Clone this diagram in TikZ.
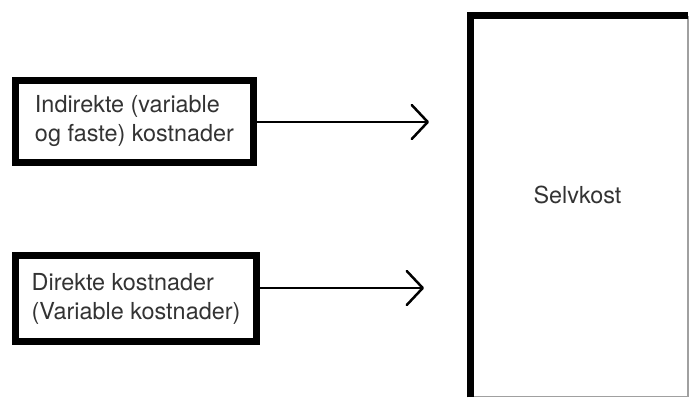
\documentclass[tikz,border=0pt]{standalone}
\usepackage{fontspec}
\setmainfont{TeX Gyre Heros}
\usetikzlibrary{arrows.meta}
\definecolor{txt}{HTML}{333333}
\definecolor{thin}{HTML}{A0A0A0}
\tikzset{
  costbox/.style={draw=black, line width=7pt, rectangle, align=left,
    inner xsep=0pt, inner ysep=0pt, text=txt,
    font=\fontsize{23.4}{29}\selectfont},
  flow/.style={draw=black, line width=2.5pt,
    -{Straight Barb[length=16pt,width=34pt,line cap=round,line join=round]}},
  labeltext/.style={text=txt, font=\fontsize{23.4}{29}\selectfont, inner sep=0pt}
}
\begin{document}
\begin{tikzpicture}[x=1pt,y=-1pt]
\useasboundingbox (0,0) rectangle (690,398);
\fill[white] (0,0) rectangle (690,398);
% left boxes
\node[costbox, minimum width=238pt, minimum height=82pt]
  (ind) at (134.5,121.5) {Indirekte (variable\\og faste) kostnader};
\node[costbox, minimum width=241pt, minimum height=86pt]
  (dir) at (136,298.5) {Direkte kostnader\\(Variable kostnader)};
% big box
\node[draw=thin, line width=1.5pt, rectangle, minimum width=216.5pt,
  minimum height=380pt, inner sep=0pt] (sk) at (579.75,206.5) {};
\draw[line width=7pt, black] (sk.south west) -- (sk.north west) -- ([xshift=-1pt]sk.north east);
\node[labeltext] (sklabel) at (577.5,194.5) {Selvkost};
% arrow tips
\coordinate (t1) at (429,122);
\coordinate (t2) at (424,288);
\draw[flow] (ind.east |- t1) -- (t1);
\draw[flow] (dir.east |- t2) -- (t2);
\end{tikzpicture}
\end{document}
